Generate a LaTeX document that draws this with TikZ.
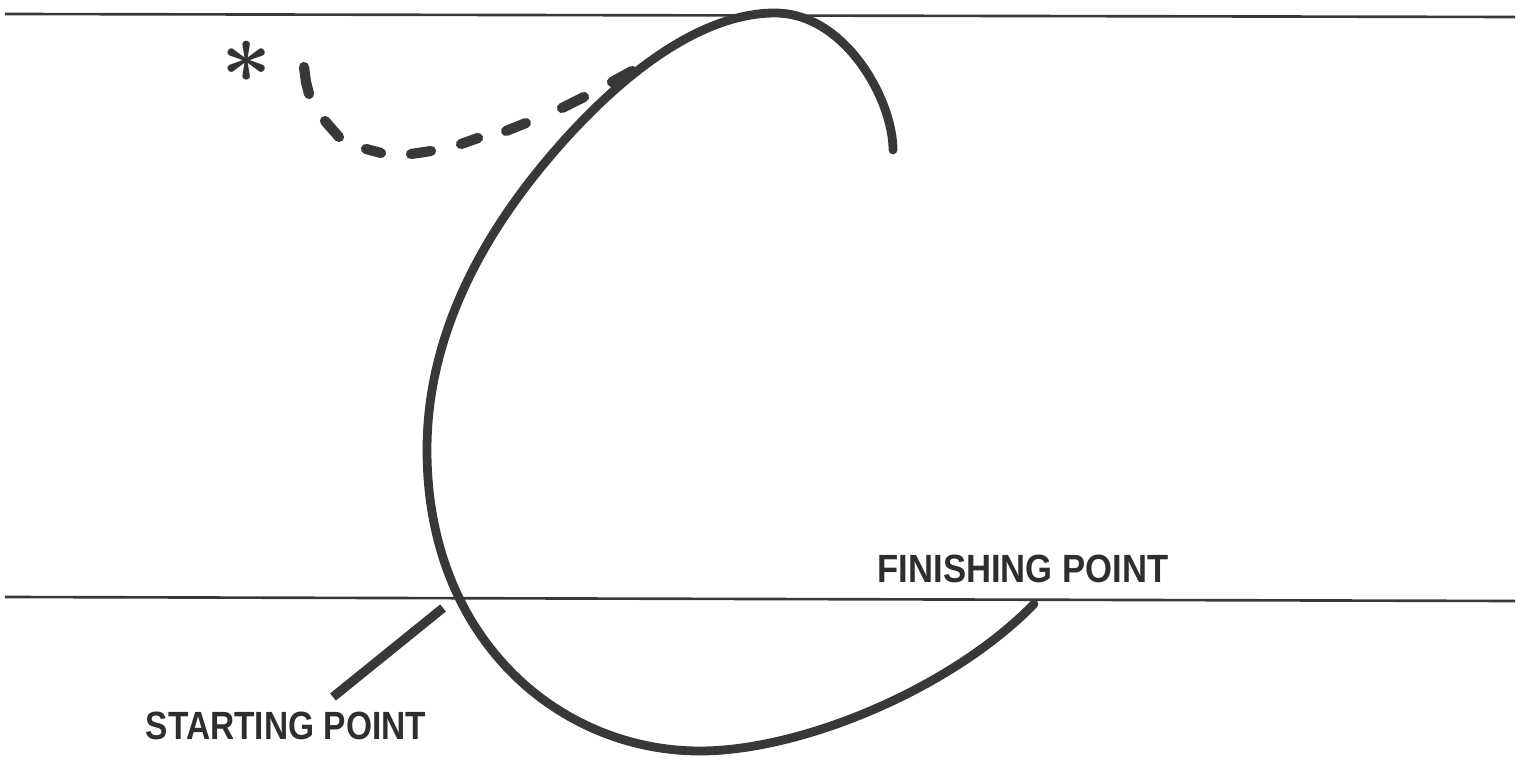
\documentclass[tikz,border=0pt]{standalone}
\usepackage{fontspec}
\newfontfamily\labelfont{Liberation Sans}
\tikzset{
  ink/.style={draw=black!78},
  rule/.style={ink, line width=0.75pt},
  stroke/.style={ink, line width=2.5pt, line cap=round, line join=round},
  dashbit/.style={ink, line width=2.9pt, line cap=round},
  leader/.style={ink, line width=2.6pt, line cap=butt},
  lbl/.style={inner sep=0pt, text=black!82, font=\labelfont\bfseries\fontsize{11.2}{12}\selectfont},
  astx/.style={inner sep=0pt, text=black!80, font=\boldmath\fontsize{25}{25}\selectfont}
}
\begin{document}
\begin{tikzpicture}[x=0.01cm,y=-0.01cm]
\useasboundingbox (0,0) rectangle (1530,761);

% horizontal rules
\coordinate (tl) at (5,14);
\coordinate (tr) at (1515,17);
\coordinate (bl) at (5,597);
\coordinate (br) at (1515,601);
\draw[rule] (tl) -- (tr);
\draw[rule] (bl) -- (br);

% main stroke
\coordinate (endtop) at (893,150);
\coordinate (peak) at (775,13);
\coordinate (upleft) at (553,153);
\coordinate (leftmost) at (427,450);
\coordinate (bottom) at (700,751);
\coordinate (finishend) at (1034,604);
\draw[stroke] (endtop)
  .. controls (893,100) and (845,13) .. (peak)
  .. controls (700,13) and (620,75) .. (upleft)
  .. controls (478,240) and (427,340) .. (leftmost)
  .. controls (427,640) and (560,751) .. (bottom)
  .. controls (800,751) and (950,690) .. (finishend);

% dashed path
\draw[dashbit] (304,67) -- (306,82) -- (309,94);
\draw[dashbit] (325,121) -- (339,137);
\draw[dashbit] (366,149) -- (381,153);
\draw[dashbit] (411,154) -- (431,151);
\draw[dashbit] (461,144) -- (478,138);
\draw[dashbit] (506,131) -- (526,123);
\draw[dashbit] (562,108) -- (584,97);
\draw[dashbit] (612,82) -- (632,71);

% asterisk
\node[astx] (ast) at (247,62) {$\ast$};

% labels
\node[lbl] (finish) at (1023,569) {\scalebox{0.88}[1]{FINISHING POINT}};
\node[lbl] (start) at (286,726) {\scalebox{0.85}[1]{STARTING POINT}};

% leader from starting label
\coordinate (sl) at (333,697);
\coordinate (se) at (443,608);
\draw[leader] (sl) -- (se);
\end{tikzpicture}
\end{document}
